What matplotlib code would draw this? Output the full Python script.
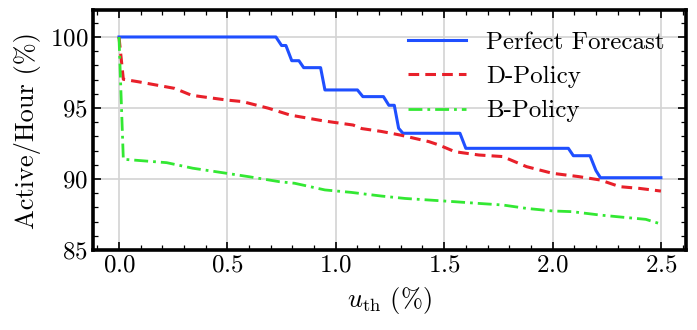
import matplotlib
matplotlib.use("Agg")
import matplotlib.pyplot as plt
from matplotlib.ticker import MultipleLocator

plt.rcParams['font.family'] = 'serif'
plt.rcParams['font.serif'] = ['cmr10', 'DejaVu Serif']
plt.rcParams['mathtext.fontset'] = 'cm'
plt.rcParams['axes.formatter.use_mathtext'] = True

# Perfect forecast (step-like curve)
pf_u = [0.0, 0.724, 0.75, 0.77, 0.797, 0.83, 0.852, 0.93, 0.95, 1.10, 1.125,
        1.22, 1.245, 1.27, 1.29, 1.31, 1.573, 1.60, 2.073, 2.096, 2.173,
        2.20, 2.221, 2.50]
pf_val = [100.0, 100.0, 99.4, 99.4, 98.33, 98.33, 97.84, 97.84, 96.27, 96.27, 95.8,
          95.8, 95.19, 95.19, 93.57, 93.22, 93.22, 92.16, 92.16, 91.64, 91.64,
          90.6, 90.09, 90.09]

# D-Policy
d_u = [0.0, 0.02, 0.088, 0.257, 0.334, 0.38, 0.497, 0.57, 0.69, 0.79, 0.94,
       1.08, 1.12, 1.21, 1.296, 1.43, 1.475, 1.55, 1.66, 1.77, 1.88, 2.0,
       2.12, 2.22, 2.31, 2.40, 2.50]
d_val = [100.0, 97.02, 96.85, 96.38, 95.9, 95.8, 95.56, 95.45, 94.98, 94.5, 94.1,
         93.8, 93.55, 93.35, 93.1, 92.63, 92.4, 91.92, 91.69, 91.58, 90.87, 90.4,
         90.17, 89.93, 89.46, 89.34, 89.15]

# B-Policy
b_u = [0.0, 0.02, 0.22, 0.34, 0.497, 0.6, 0.74, 0.81, 0.95, 1.07, 1.21, 1.32,
       1.43, 1.55, 1.66, 1.77, 1.88, 2.0, 2.09, 2.22, 2.33, 2.43, 2.50]
b_val = [100.0, 91.39, 91.15, 90.76, 90.4, 90.16, 89.81, 89.7, 89.23, 89.06, 88.8,
         88.63, 88.52, 88.4, 88.28, 88.17, 87.93, 87.75, 87.7, 87.46, 87.3, 87.16,
         86.83]

fig = plt.figure(figsize=(6.97, 3.30), dpi=100)
ax = fig.add_axes([0.1334, 0.2424, 0.8506, 0.7273])

ax.plot(pf_u, pf_val, color='#1f4fff', lw=2.2, label='Perfect Forecast')
ax.plot(d_u, d_val, color='#e8202a', lw=2.2, ls=(0, (3.5, 2)), label='D-Policy')
ax.plot(b_u, b_val, color='#33e833', lw=2.0, ls=(0, (5, 1.8, 1, 1.8)), label='B-Policy')

ax.set_xlim(-0.12, 2.615)
ax.set_ylim(85, 101.9)
ax.set_xticks([0.0, 0.5, 1.0, 1.5, 2.0, 2.5])
ax.set_yticks([85, 90, 95, 100])
ax.xaxis.set_minor_locator(MultipleLocator(0.1))
ax.yaxis.set_minor_locator(MultipleLocator(1))
ax.tick_params(which='both', direction='in', top=True, right=True, labelsize=18)
ax.tick_params(which='major', length=6, width=1.2)
ax.tick_params(which='minor', length=3.5, width=0.9)
ax.grid(True, which='major', color='#d3d3d3', lw=1.2)
ax.set_axisbelow(True)
for s in ax.spines.values():
    s.set_linewidth(2.6)

ax.set_xlabel(r'$u_{\mathrm{th}}$ (%)', fontsize=19, labelpad=6)
ax.set_ylabel('Active/Hour (%)', fontsize=19, labelpad=6)
ax.legend(loc='upper right', frameon=False, fontsize=18, handlelength=2.3,
          borderaxespad=0.46, labelspacing=0.47)

fig.savefig('out.png', dpi=100)
